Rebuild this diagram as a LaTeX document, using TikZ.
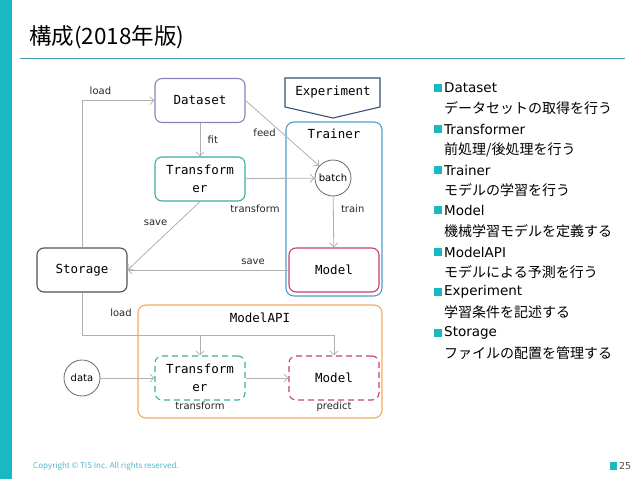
\documentclass[tikz,border=0pt]{standalone}
\usepackage{fontspec}
\setmainfont{DejaVu Sans}
\setmonofont{DejaVu Sans Mono}
\newfontfamily\jpfont{Noto Sans CJK JP}
\usetikzlibrary{arrows.meta,positioning}

\definecolor{barteal}{RGB}{27,183,197}
\definecolor{ruleteal}{RGB}{70,160,172}
\definecolor{dsviolet}{RGB}{140,128,190}
\definecolor{expblue}{RGB}{52,82,122}
\definecolor{trnblue}{RGB}{78,158,204}
\definecolor{tfteal}{RGB}{62,172,160}
\definecolor{stbrown}{RGB}{92,78,72}
\definecolor{mdlred}{RGB}{200,62,112}
\definecolor{apiorange}{RGB}{240,172,92}
\definecolor{arrgray}{RGB}{176,176,176}
\definecolor{circgray}{RGB}{105,105,105}
\definecolor{footteal}{RGB}{82,182,202}

\tikzset{
  >={Straight Barb[length=4pt,width=8pt]},
  box/.style={draw, fill=white, rounded corners=7pt, line width=1.1pt,
    minimum width=90pt, minimum height=44pt, align=center,
    font=\ttfamily\fontsize{12.5}{18}\selectfont},
  dashbox/.style={box, dash pattern=on 6pt off 4pt},
  circ/.style={circle, draw=circgray, line width=0.8pt, minimum size=36pt,
    inner sep=0pt, fill=white, font=\fontsize{10}{12}\selectfont},
  lbl/.style={font=\fontsize{10}{12}\selectfont, text=black!85},
  arr/.style={->, draw=arrgray, line width=0.8pt},
  item/.style={anchor=west, inner sep=0pt, font=\fontsize{13.5}{16}\selectfont},
  itemjp/.style={anchor=west, inner sep=0pt, font=\jpfont\fontsize{14}{16}\selectfont},
}

\begin{document}
\begin{tikzpicture}[x=1pt, y=-1pt]

  \useasboundingbox (0,0) rectangle (638,479);

  % slide frame
  \fill[barteal] (0,0) rectangle (12,479);
  \node[anchor=west, inner sep=0pt, font=\jpfont\fontsize{22.5}{26}\selectfont] (title) at (29,37) {構成(2018年版)};
  \draw[ruleteal, line width=1pt] (20,58) -- (625,58);

  % containers
  \draw[trnblue, line width=1.1pt, rounded corners=8pt] (286,122) rectangle (382,296);
  \node[font=\ttfamily\fontsize{12.5}{14}\selectfont] (trnlbl) at (334,134) {Trainer};

  \draw[apiorange, line width=1.1pt, rounded corners=8pt] (138,305) rectangle (382,418);
  \node[font=\ttfamily\fontsize{12.5}{14}\selectfont] (apilbl) at (260,318) {ModelAPI};

  \draw[expblue, line width=1.1pt] (285,78) -- (380,78) -- (380,107) -- (333,118) -- (285,107) -- cycle;
  \node[font=\ttfamily\fontsize{12.5}{14}\selectfont] (explbl) at (333,92) {Experiment};

  % training side
  \node[box, draw=dsviolet] (ds) at (200,100.5) {Dataset};
  \node[box, draw=tfteal] (tf) at (200,179) {Transform\\er};
  \node[box, draw=stbrown] (st) at (82,270) {Storage};
  \node[box, draw=mdlred] (mdl) at (334,270) {Model};
  \node[circ] (bt) at (333,178) {batch};

  \draw[arr] (ds) -- (tf) node[lbl, midway, right=4pt] {fit};
  \draw[arr] (ds.east) -- (bt) node[lbl, pos=0.5, left=3pt] {feed};
  \draw[arr] (tf) -- (bt);
  \node[lbl] (tflbl) at (255,209) {transform};
  \draw[arr] (bt) -- (mdl) node[lbl, pos=0.25, right=4pt] {train};
  \draw[arr] (tf.south) -- (st.east) node[lbl, pos=0.4, above left=0pt] {save};
  \draw[arr] (mdl) -- (st) node[lbl, pos=0.22, above=2pt] {save};
  \draw[arr] (st.north) |- (ds.west) node[lbl, pos=0.5, above right=2pt and 4pt] {load};

  % serving side
  \node[dashbox, draw=tfteal] (tf2) at (200,378) {Transform\\er};
  \node[dashbox, draw=mdlred] (mdl2) at (334,378) {Model};
  \node[circ] (data) at (82,378) {data};
  \coordinate (ld) at (82,335);

  \draw[arr] (st.south) -- (ld) -| (tf2);
  \draw[arr] (st.south) -- (ld) -| (mdl2);
  \node[lbl] (ldlbl) at (121,313) {load};
  \draw[arr] (data) -- (tf2);
  \draw[arr] (tf2) -- (mdl2);
  \node[lbl, anchor=north, inner sep=1pt] (tf2lbl) at (tf2.south) {transform};
  \node[lbl, anchor=north, inner sep=1pt] (mdl2lbl) at (mdl2.south) {predict};

  % description list
  \fill[barteal] (434,84) rectangle (442,92);
  \node[item] (i1) at (444,88) {Dataset};
  \node[itemjp] (j1) at (444,108) {データセットの取得を行う};
  \fill[barteal] (434,125) rectangle (442,133);
  \node[item] (i2) at (444,129) {Transformer};
  \node[itemjp] (j2) at (444,150) {前処理/後処理を行う};
  \fill[barteal] (434,166) rectangle (442,174);
  \node[item] (i3) at (444,170) {Trainer};
  \node[itemjp] (j3) at (444,190) {モデルの学習を行う};
  \fill[barteal] (434,206) rectangle (442,214);
  \node[item] (i4) at (444,210) {Model};
  \node[itemjp] (j4) at (444,231) {機械学習モデルを定義する};
  \fill[barteal] (434,248) rectangle (442,256);
  \node[item] (i5) at (444,252) {ModelAPI};
  \node[itemjp] (j5) at (444,272) {モデルによる予測を行う};
  \fill[barteal] (434,288) rectangle (442,296);
  \node[item] (i6) at (444,292) {Experiment};
  \node[itemjp] (j6) at (444,312) {学習条件を記述する};
  \fill[barteal] (434,329) rectangle (442,337);
  \node[item] (i7) at (444,333) {Storage};
  \node[itemjp] (j7) at (444,353) {ファイルの配置を管理する};

  % footer
  \node[anchor=west, inner sep=0pt, text=footteal, font=\jpfont\fontsize{8}{9}\selectfont] (copy) at (33,466) {Copyright © TIS Inc. All rights reserved.};
  \fill[barteal] (610,462) rectangle (617,470);
  \node[anchor=west, inner sep=0pt, text=black!70, font=\fontsize{9.5}{11}\selectfont] (page) at (619,466) {25};

\end{tikzpicture}
\end{document}
